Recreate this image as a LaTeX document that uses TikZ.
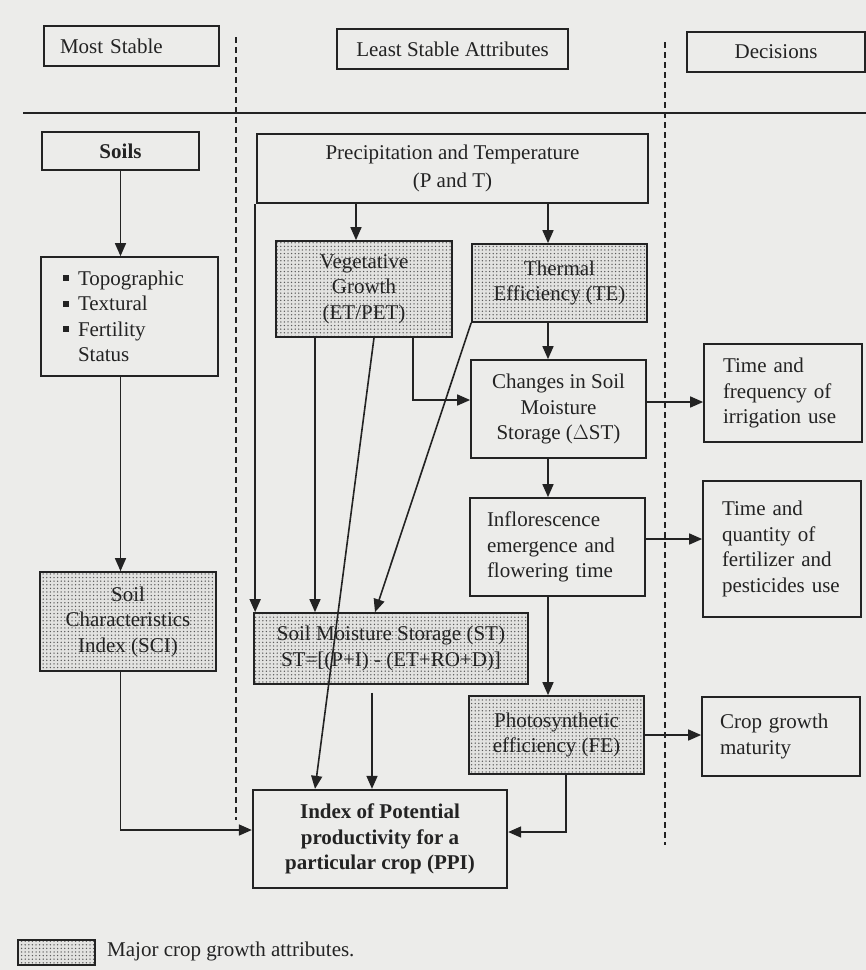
\documentclass[tikz,border=0pt]{standalone}
\usepackage{fontspec}
\setmainfont{Liberation Serif}
\usetikzlibrary{arrows.meta,patterns.meta,calc}

\definecolor{paper}{RGB}{236,236,234}
\definecolor{ink}{RGB}{35,35,35}
\definecolor{shade}{RGB}{226,226,224}

% small filled square used as list bullet
\newcommand\sqbul{\makebox[15pt][l]{\rule[4pt]{6pt}{6pt}}}

\begin{document}
\begin{tikzpicture}[x=1pt,y=-1pt,
  every node/.style={font=\fontsize{21}{25.5}\selectfont, text=ink},
  box/.style={draw=ink, line width=1.7pt, inner sep=0pt, align=center},
  leftbox/.style={box, align=left},
  shaded/.style={box, preaction={fill=shade},
    pattern={Dots[distance=3.6pt, radius=0.75pt]}, pattern color=ink!75},
  arr/.style={draw=ink, line width=1.6pt, -{Triangle[length=13pt,width=11pt]}},
  divider/.style={draw=ink, line width=1.6pt, dash pattern=on 6pt off 4pt},
]
\fill[paper] (0,0) rectangle (866,970);
\useasboundingbox (0,0) rectangle (866,970);

% column headings
\node[leftbox, minimum width=175pt, minimum height=40pt, text width=143pt] (most) at (131.5,46) {Most Stable};
\node[box, minimum width=231pt, minimum height=40pt] (least) at (452.5,49) {Least Stable Attributes};
\node[box, minimum width=178pt, minimum height=40pt] (decis) at (776,52) {Decisions};

% dividers
\draw[draw=ink, line width=1.6pt] (23,113) -- (866,113);
\draw[divider] (236,37) -- (236,820);
\draw[divider] (665,42) -- (665,845);

% most stable column
\node[box, minimum width=157pt, minimum height=38pt, font=\fontsize{21}{25.5}\selectfont\bfseries] (soils) at (120.5,151) {Soils};
\node[leftbox, minimum width=177pt, minimum height=119pt, text width=133pt] (topo) at (129.5,316.5)
  {\sqbul Topographic\\\sqbul Textural\\\sqbul Fertility\\\hspace*{15pt}Status};
\node[shaded, minimum width=176pt, minimum height=99pt] (sci) at (128,621.5) {Soil\\Characteristics\\Index (SCI)};

% least stable column
\node[box, minimum width=391pt, minimum height=69pt] (precip) at (452.5,168.5) {Precipitation and Temperature\\[3pt](P and T)};
\node[shaded, minimum width=176pt, minimum height=96pt] (veg) at (364,289) {Vegetative\\Growth\\(ET/PET)};
\node[shaded, minimum width=175pt, minimum height=78pt] (te) at (559.5,283) {Thermal\\Efficiency (TE)};
\node[box, minimum width=175pt, minimum height=98pt] (dst) at (558.5,409) {Changes in Soil\\Moisture\\Storage ($\Delta$ST)};
\node[leftbox, minimum width=175pt, minimum height=98pt, text width=141pt] (infl) at (557.5,547)
  {\mbox{Inflorescence}\\\mbox{emergence and}\\\mbox{flowering time}};
\node[shaded, minimum width=274pt, minimum height=71pt] (st) at (391,648.5) {Soil Moisture Storage (ST)\\ST=[(P+I) - (ET+RO+D)]};
\node[shaded, minimum width=175pt, minimum height=78pt] (fe) at (556.5,735) {Photosynthetic\\efficiency (FE)};
\node[box, line width=2.3pt, minimum width=254pt, minimum height=98pt, font=\fontsize{21}{25.5}\selectfont\bfseries] (ppi) at (380,839)
  {Index of Potential\\productivity for a\\particular crop (PPI)};

% decisions column
\node[leftbox, minimum width=158pt, minimum height=98pt, text width=120pt] (tf) at (783,393)
  {\mbox{Time and}\\\mbox{frequency of}\\\mbox{irrigation use}};
\node[leftbox, minimum width=158pt, minimum height=136pt, text width=120pt] (tq) at (782,549)
  {\mbox{Time and}\\\mbox{quantity of}\\\mbox{fertilizer and}\\\mbox{pesticides use}};
\node[leftbox, minimum width=158pt, minimum height=79pt, text width=122pt] (cgm) at (781,736.5)
  {\mbox{Crop growth}\\\mbox{maturity}};

% legend
\node[shaded, minimum width=77pt, minimum height=25pt] (legbox) at (56.5,952.5) {};
\node[anchor=west, inner sep=0pt] (legtext) at (107,951) {Major crop growth attributes.};

% helper positions for connectors
\coordinate (colx) at (548,0);
\coordinate (rowA) at (0,402);
\coordinate (rowB) at (0,539);
\coordinate (rowC) at (0,735);
\coordinate (vegA) at ($(veg.north)+(-8,0)$);
\coordinate (vegB) at ($(veg.south)+(-49,0)$);
\coordinate (stL) at ($(st.north west)+(2,0)$);
\coordinate (stB) at ($(st.south)+(-19,8)$);

% connectors
\draw[arr] (soils.south) -- (soils.south |- topo.north);
\draw[arr] (topo.south -| soils.south) -- (sci.north -| soils.south);
\draw[arr] (sci.south -| soils.south) |- ($(ppi.west)+(0,-9)$);

\draw[arr] (vegA |- precip.south) -- (vegA);
\draw[arr] (colx |- precip.south) -- (colx |- te.north);
\draw[arr] (stL |- precip.south) -- (stL);

\draw[arr] (vegB) -- (vegB |- st.north);
\draw[arr] ($(veg.south)+(10,0)$) -- ($(ppi.north)+(-65,0)$);
\draw[arr] ($(veg.south)+(49,0)$) |- ($(dst.west)+(0,-9)$);
\draw[arr] (te.south west) -- ($(st.north)+(-16,0)$);

\draw[arr] (colx |- te.south) -- (colx |- dst.north);
\draw[arr] (colx |- dst.south) -- (colx |- infl.north);
\draw[arr] (colx |- infl.south) -- (colx |- fe.north);

\draw[arr] (stB) -- (stB |- ppi.north);
\draw[arr] ($(fe.south)+(9.5,0)$) |- ($(ppi.east)+(0,-7)$);

\draw[arr] (dst.east |- rowA) -- (tf.west |- rowA);
\draw[arr] (infl.east |- rowB) -- (tq.west |- rowB);
\draw[arr] (fe.east |- rowC) -- (cgm.west |- rowC);
\end{tikzpicture}
\end{document}
